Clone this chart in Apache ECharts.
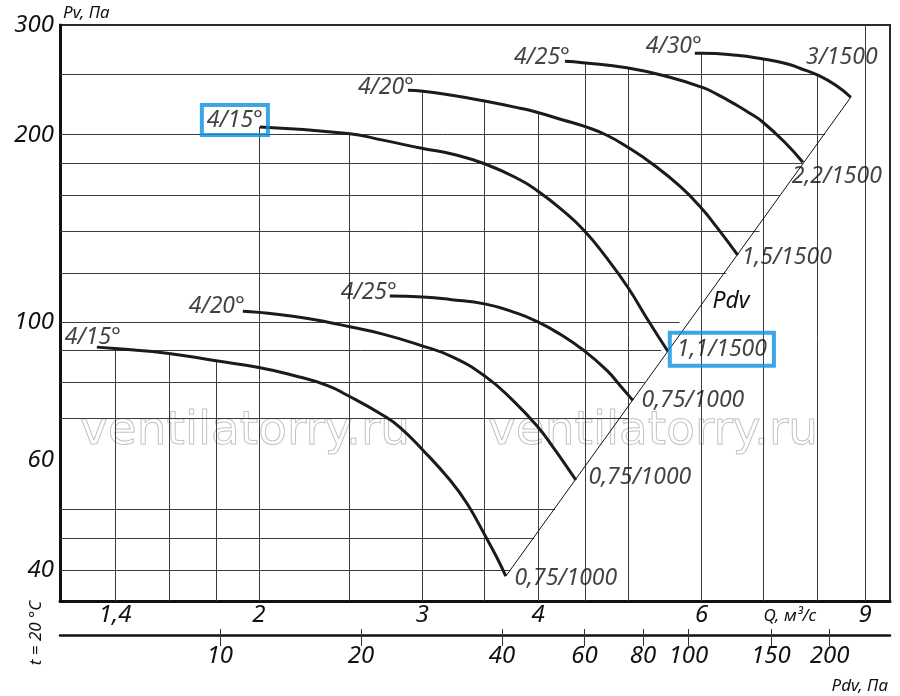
<!DOCTYPE html>
<html>
<head>
<meta charset="utf-8">
<script src="https://cdn.jsdelivr.net/npm/echarts@6/dist/echarts.min.js"></script>
<style>
html,body{margin:0;padding:0;background:#fff;}
#chart{width:900px;height:696px;}
</style>
</head>
<body>
<div id="chart"></div>
<script>
// ---------- data ----------
const qTicks   = [1.4, 2, 3, 4, 6, 9];                  // Q, m3/s labels
const pvTicks  = [40, 60, 100, 200, 300];               // Pv, Pa labels
const pdvTicks = [10, 20, 40, 60, 80, 100, 150, 200];   // Pdv, Pa labels

// vertical grid lines (Q) and the Pv value where each one starts (top)
const qGrid    = [1.4, 1.6, 1.8, 2, 2.5, 3, 3.5, 4, 4.5, 5, 6, 7, 8, 9];
const qGridTop = [90.7, 89.1, 86.7, 205.8, 200.8, 234.9, 226.5, 217, 260.8, 256, 270.3, 264.5, 250, 300];
// horizontal grid lines (Pv) and the Q value where each one ends (right)
const pvGrid    = [40, 45, 50, 70, 80, 90, 100, 120, 140, 160, 180, 200, 250];
const pvGridEnd = [3.73, 3.96, 4.17, 5.0, 5.21, 5.43, 5.68, 6.38, 6.93, 7.28, 7.71, 8.15, 8.0];

// fan curves [Q, Pv]
const curveA = [[1.338,91.2],[1.399,90.7],[1.600,89.1],[1.798,86.7],[2.000,84.6],[2.176,82.2],[2.368,79.2],[2.488,76.4],[2.721,70.9],[2.838,67.8],[3.005,62.3],[3.213,55.8],[3.351,51.2],[3.513,45.2],[3.610,41.9],[3.691,39.1]];
const curveB = [[1.922,104.1],[2.000,103.7],[2.176,102.2],[2.368,100.1],[2.507,98.3],[2.721,95.7],[2.982,91.9],[3.237,87.9],[3.513,81.7],[3.756,74.9],[3.997,67.9],[4.148,63.1],[4.295,58.6],[4.392,55.8]];
const curveC = [[2.768,110.2],[3.005,109.8],[3.213,108.8],[3.513,106.9],[3.794,103.4],[3.997,100.1],[4.221,95.7],[4.469,90.3],[4.743,83.7],[4.898,79.2],[5.059,74.9]];
const curveD = [[2.005,205.8],[2.494,200.9],[2.721,196.0],[3.005,190.0],[3.237,186.1],[3.513,179.3],[3.822,169.3],[3.997,162.3],[4.221,152.4],[4.480,140.5],[4.743,126.7],[4.996,113.8],[5.237,101.5],[5.518,89.8]];
const curveE = [[2.895,235.7],[3.005,234.9],[3.229,231.4],[3.513,226.3],[3.822,220.6],[3.987,217.3],[4.263,211.0],[4.480,206.4],[4.743,199.6],[4.996,190.9],[5.316,179.3],[5.685,165.3],[5.973,153.5],[6.230,142.1],[6.563,128.1]];
const curveF = [[4.274,262.4],[4.469,261.0],[4.984,256.2],[5.545,247.3],[6.003,238.4],[6.230,232.3],[6.547,223.0],[6.762,216.5],[6.966,210.2],[7.375,194.5],[7.713,180.6]];
const curveG = [[5.900,270.3],[6.003,270.3],[6.547,268.3],[6.966,264.8],[7.412,260.0],[7.656,255.7],[8.006,249.2],[8.371,240.1],[8.688,229.7]];

const startLabels = ['4/15°', '4/20°', '4/25°', '4/15°', '4/20°', '4/25°', '4/30°'];
const endLabels   = ['0,75/1000', '0,75/1000', '0,75/1000', '1,1/1500', '1,5/1500', '2,2/1500', '3/1500'];

// Pdv line (dynamic pressure) through the curve ends
const pdvLine = [[3.691,39.1],[8.688,229.7]];

// ---------- layout / style ----------
const Q_MIN = 1.221, Q_MAX = 9.576;
const PV_MIN = 35.68, PV_MAX = 300;
const PDV_MIN = 4.559, PDV_MAX = 269.2;
const FONT = '"Noto Sans", "Open Sans", sans-serif';
const INK = '#111';
const BLUE = '#0b8fdc';
const startOffsets = [[-4,-10],[-26,-5],[-21,-3],[-25,-7],[-22,-3],[-23,-4],[-21,-7]];
const endOffsets   = [[60,2],[64,-3],[60,0],[54,-2],[49,2],[34,14],[-9,-40]];
const boxedStart = {3: [4,5,3,5]};
const boxedEnd   = {3: [5,7,5,7]};

const curves = [curveA, curveB, curveC, curveD, curveE, curveF, curveG];
const fmt = v => String(v).replace('.', ',');

const series = [];

// partial grid lines
series.push({
  type: 'lines', coordinateSystem: 'cartesian2d', xAxisIndex: 0, yAxisIndex: 0,
  silent: true, z: 1, polyline: false,
  lineStyle: { color: '#3c3c3c', width: 1, opacity: 1, curveness: 0 },
  data: qGrid.map((q, i) => ({ coords: [[q, PV_MIN], [q, qGridTop[i]]] }))
    .concat(pvGrid.map((p, i) => ({ coords: [[Q_MIN, p], [pvGridEnd[i], p]] })))
});

// Pdv diagonal
series.push({
  type: 'line', data: pdvLine, symbol: 'none', silent: true, z: 3,
  lineStyle: { color: INK, width: 1 }
});

// fan curves
curves.forEach(c => series.push({
  type: 'line', data: c, symbol: 'none', showSymbol: false, smooth: 0.5, silent: true, z: 4,
  lineStyle: { color: '#1b1b1b', width: 3, cap: 'butt' }
}));

// curve labels
const labelData = [];
curves.forEach((c, i) => {
  const sl = { offset: startOffsets[i] };
  if (boxedStart[i]) Object.assign(sl, { borderColor: BLUE, borderWidth: 4, padding: boxedStart[i] });
  labelData.push({ value: c[0], name: startLabels[i], label: sl });
  const el = { offset: endOffsets[i] };
  if (boxedEnd[i]) Object.assign(el, { borderColor: BLUE, borderWidth: 4, padding: boxedEnd[i] });
  labelData.push({ value: c[c.length - 1], name: endLabels[i], label: el });
});
series.push({
  type: 'scatter', symbolSize: 1, silent: true, z: 6,
  itemStyle: { color: 'rgba(0,0,0,0)' },
  label: {
    show: true, position: 'inside', formatter: '{b}',
    fontFamily: FONT, fontStyle: 'italic', fontSize: 23, color: INK
  },
  data: labelData
});

const tickFont = { fontFamily: FONT, fontStyle: 'italic', fontSize: 24, color: INK };
const smallFont = 'italic 17px "Noto Sans", sans-serif';

const option = {
  animation: false,
  backgroundColor: '#fff',
  grid: { left: 60, right: 10, top: 25, bottom: 95, show: true, borderColor: '#2a2a2a', borderWidth: 2, backgroundColor: 'rgba(0,0,0,0)' },
  xAxis: [
    {
      type: 'log', logBase: 10, min: Q_MIN, max: Q_MAX, position: 'bottom',
      axisLine: { show: true, onZero: false, lineStyle: { color: INK, width: 3 } },
      axisTick: { show: false }, minorTick: { show: false }, splitLine: { show: false },
      axisLabel: Object.assign({ customValues: qTicks, formatter: fmt, margin: 2 }, tickFont)
    },
    {
      type: 'log', logBase: 10, min: PDV_MIN, max: PDV_MAX, position: 'bottom', offset: 34,
      axisLine: { show: true, onZero: false, lineStyle: { color: INK, width: 2.5 } },
      axisTick: { show: true, customValues: pdvTicks, inside: false, length: 11, lineStyle: { color: '#333', width: 1 } },
      minorTick: { show: false }, splitLine: { show: false },
      axisLabel: Object.assign({ customValues: pdvTicks, formatter: fmt, margin: 9 }, tickFont)
    },
    {
      type: 'log', logBase: 10, min: PDV_MIN, max: PDV_MAX, position: 'bottom', offset: 34,
      axisLine: { show: false },
      axisTick: { show: true, customValues: pdvTicks, inside: true, length: 6, lineStyle: { color: '#333', width: 1 } },
      minorTick: { show: false }, splitLine: { show: false },
      axisLabel: { show: false }
    }
  ],
  yAxis: [
    {
      type: 'log', logBase: 10, min: PV_MIN, max: PV_MAX,
      axisLine: { show: true, onZero: false, lineStyle: { color: INK, width: 3 } },
      axisTick: { show: false }, minorTick: { show: false }, splitLine: { show: false },
      axisLabel: Object.assign({ customValues: pvTicks, formatter: fmt, margin: 6 }, tickFont)
    }
  ],
  graphic: [
    { type: 'text', z: 0, x: 80, y: 432, silent: true,
      style: { text: 'ventilatorry.ru', font: '47px "DejaVu Sans", sans-serif', fill: 'rgba(0,0,0,0)', stroke: '#c4c4c4', lineWidth: 1, align: 'left', verticalAlign: 'middle' } },
    { type: 'text', z: 0, x: 488, y: 432, silent: true,
      style: { text: 'ventilatorry.ru', font: '47px "DejaVu Sans", sans-serif', fill: 'rgba(0,0,0,0)', stroke: '#c4c4c4', lineWidth: 1, align: 'left', verticalAlign: 'middle' } },
    { type: 'text', z: 10, x: 63, y: 13, silent: true,
      style: { text: 'Pv, Па', font: smallFont, fill: INK, align: 'left', verticalAlign: 'middle' } },
    { type: 'text', z: 10, x: 790, y: 616, silent: true,
      style: { text: 'Q, м³/с', font: smallFont, fill: INK, align: 'center', verticalAlign: 'middle' } },
    { type: 'text', z: 10, x: 888, y: 686, silent: true,
      style: { text: 'Pdv, Па', font: smallFont, fill: INK, align: 'right', verticalAlign: 'middle' } },
    { type: 'text', z: 10, x: 36, y: 633, rotation: Math.PI / 2, silent: true,
      style: { text: 't = 20 °C', font: smallFont, fill: INK, align: 'center', verticalAlign: 'middle' } },
    { type: 'text', z: 10, x: 731, y: 301, silent: true,
      style: { text: 'Pdv', font: 'italic 23px "Noto Sans", sans-serif', fill: INK, align: 'center', verticalAlign: 'middle' } }
  ],
  series: series
};

const chart = echarts.init(document.getElementById('chart'), null, { renderer: 'canvas' });
chart.setOption(option);
</script>
</body>
</html>
